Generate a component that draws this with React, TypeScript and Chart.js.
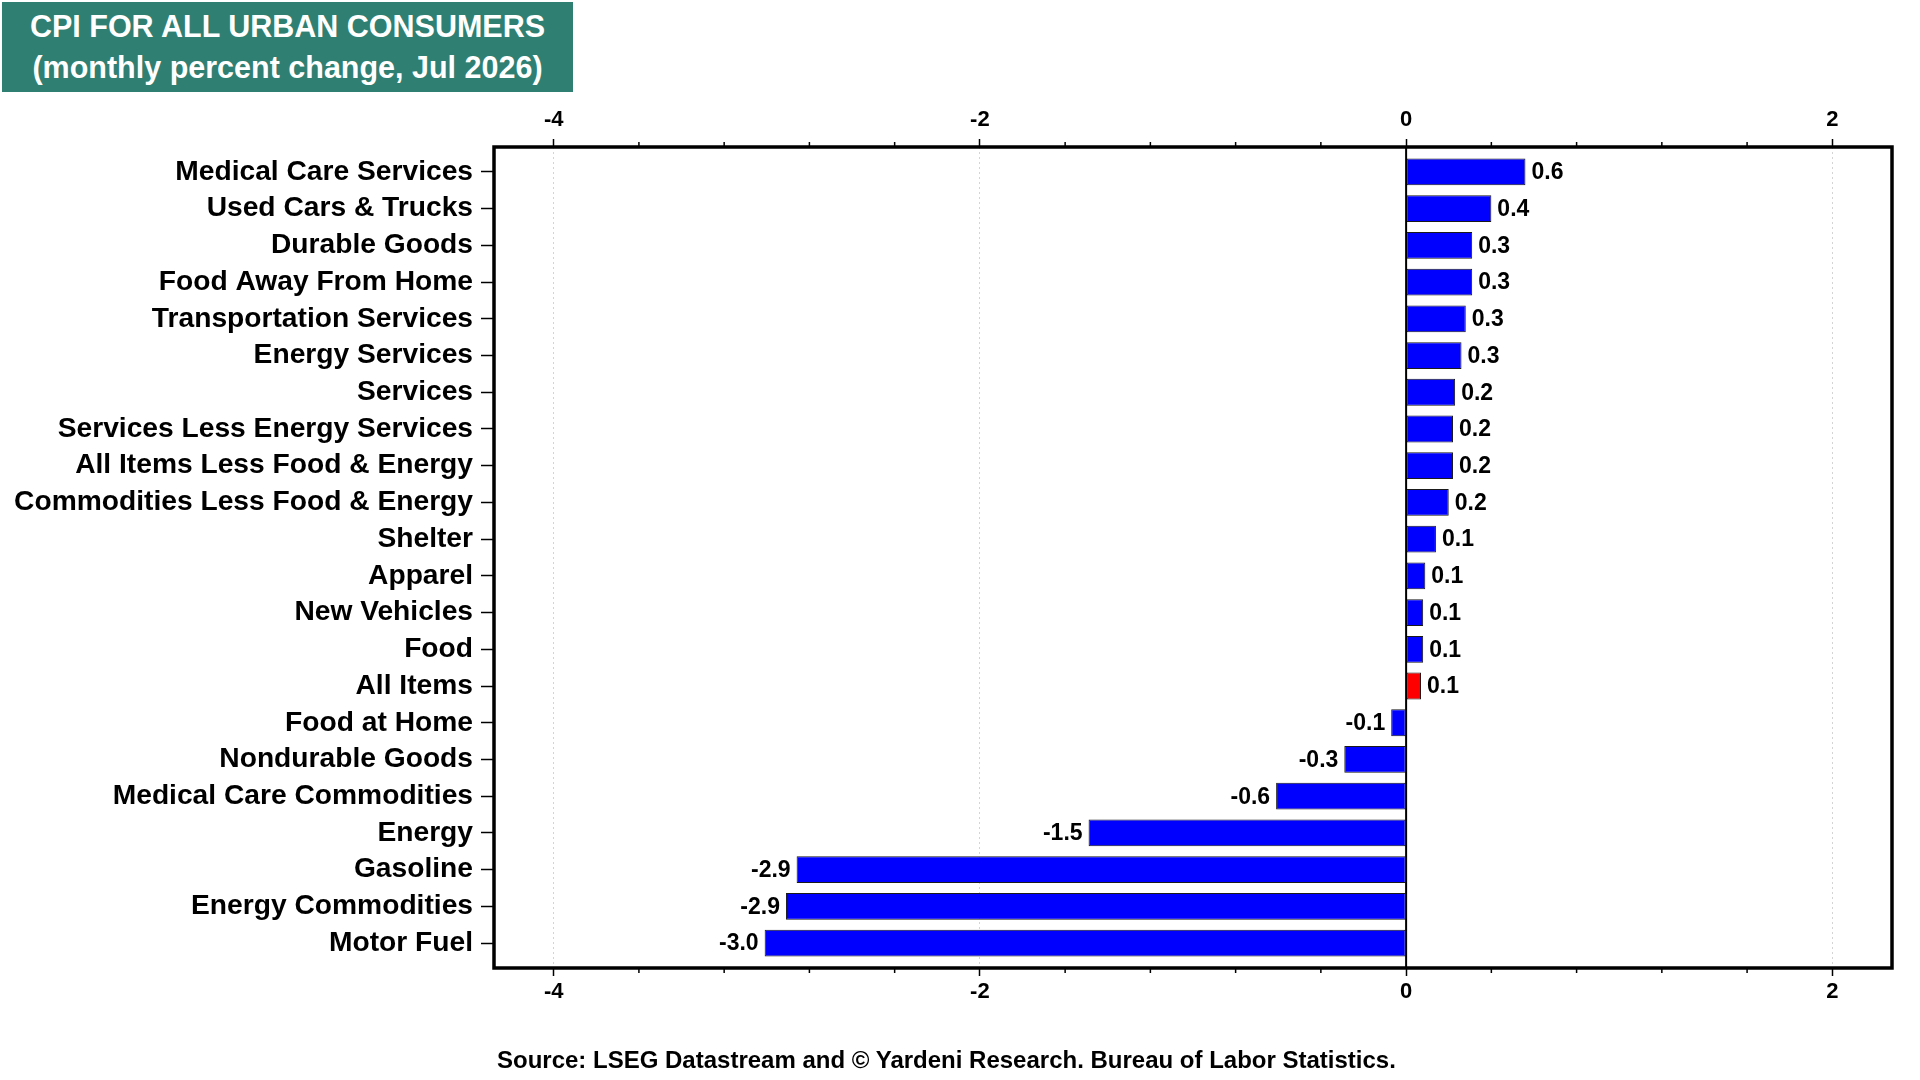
import { useEffect, useRef } from "react";
import { Chart, registerables } from "chart.js";
Chart.register(...registerables);

// ── Data ──────────────────────────────────────────────────────────────────────

const CATEGORIES = [
  "Medical Care Services",
  "Used Cars & Trucks",
  "Durable Goods",
  "Food Away From Home",
  "Transportation Services",
  "Energy Services",
  "Services",
  "Services Less Energy Services",
  "All Items Less Food & Energy",
  "Commodities Less Food & Energy",
  "Shelter",
  "Apparel",
  "New Vehicles",
  "Food",
  "All Items",
  "Food at Home",
  "Nondurable Goods",
  "Medical Care Commodities",
  "Energy",
  "Gasoline",
  "Energy Commodities",
  "Motor Fuel",
];

const VALUES = [
  0.56, 0.4, 0.31, 0.31, 0.28, 0.26, 0.23, 0.22, 0.22, 0.2, 0.14,
  0.09, 0.08, 0.08, 0.07, -0.07, -0.29, -0.61, -1.49, -2.86, -2.91, -3.01,
];

const HIGHLIGHT = "All Items";

const X_MIN = -4.28;
const X_MAX = 2.28;
const MAJOR_TICKS = [-4, -2, 0, 2];
const MINOR_TICKS = [-3.6, -3.2, -2.8, -2.4, -1.6, -1.2, -0.8, -0.4, 0.4, 0.8, 1.2, 1.6];

const TITLE_LINES = ["CPI FOR ALL URBAN CONSUMERS", "(monthly percent change, Jul 2026)"];
const SOURCE = "Source: LSEG Datastream and © Yardeni Research. Bureau of Labor Statistics.";

// ── Style ─────────────────────────────────────────────────────────────────────

const FONT = "'Liberation Sans', Arial, Helvetica, sans-serif";
const BLUE = "#0000FF";
const RED = "#FF0000";
const TEAL = "#2F7F72";

// ── Plugins ───────────────────────────────────────────────────────────────────

const framePlugin = {
  id: "frame",
  afterDatasetsDraw(chart: Chart) {
    const { ctx, chartArea: a } = chart;
    const x = chart.scales.x;
    ctx.save();
    // zero line
    const x0 = x.getPixelForValue(0);
    ctx.strokeStyle = "#000";
    ctx.lineWidth = 2;
    ctx.beginPath();
    ctx.moveTo(x0, a.top);
    ctx.lineTo(x0, a.bottom);
    ctx.stroke();
    // value labels
    const meta = chart.getDatasetMeta(0);
    ctx.font = `bold 23px ${FONT}`;
    ctx.fillStyle = "#000";
    ctx.textBaseline = "middle";
    meta.data.forEach((el: any, i: number) => {
      const v = VALUES[i];
      const txt = v.toFixed(1);
      if (v >= 0) {
        ctx.textAlign = "left";
        ctx.fillText(txt, el.x + 6, el.y + 1);
      } else {
        ctx.textAlign = "right";
        ctx.fillText(txt, el.x - 6, el.y + 1);
      }
    });
    ctx.restore();
  },
  afterDraw(chart: Chart) {
    const { ctx, chartArea: a } = chart;
    const x = chart.scales.x;
    ctx.save();
    ctx.strokeStyle = "#000";
    ctx.lineWidth = 1.5;
    MINOR_TICKS.forEach((v) => {
      const px = x.getPixelForValue(v);
      ctx.beginPath();
      ctx.moveTo(px, a.top);
      ctx.lineTo(px, a.top - 5);
      ctx.moveTo(px, a.bottom);
      ctx.lineTo(px, a.bottom + 5);
      ctx.stroke();
    });
    ctx.lineWidth = 3.5;
    ctx.strokeRect(a.left, a.top, a.right - a.left, a.bottom - a.top);
    ctx.restore();
  },
};

// ── Chart ─────────────────────────────────────────────────────────────────────

function CpiBarChart() {
  const ref = useRef<HTMLCanvasElement>(null);
  const chartRef = useRef<Chart | null>(null);

  useEffect(() => {
    if (!ref.current) return;
    chartRef.current?.destroy();

    const xAxis = (position: "top" | "bottom", onArea: boolean) => ({
      type: "linear" as const,
      position,
      min: X_MIN,
      max: X_MAX,
      afterBuildTicks: (s: any) => {
        s.ticks = MAJOR_TICKS.map((value) => ({ value }));
      },
      afterFit: (s: any) => {
        s.height = position === "top" ? 147 : 112;
      },
      ticks: {
        color: "#000",
        font: { family: FONT, size: 22, weight: "bold" as const },
        padding: position === "top" ? 6 : 3,
        callback: (v: any) => String(v),
      },
      grid: {
        drawOnChartArea: onArea,
        color: (c: any) => (c.tick && c.tick.value === 0 ? "rgba(0,0,0,0)" : "#d4d4d4"),
        lineWidth: 1,
        tickColor: "#000",
        tickLength: 8,
        tickWidth: 1.5,
      },
      border: { display: false, dash: [2, 3] },
    });

    chartRef.current = new Chart(ref.current, {
      type: "bar",
      data: {
        datasets: [
          {
            data: VALUES.map((v, i) => ({ x: v, y: i })),
            backgroundColor: CATEGORIES.map((c) => (c === HIGHLIGHT ? RED : BLUE)),
            borderColor: "#1a1a1a",
            borderWidth: 1,
            borderSkipped: false,
            barPercentage: 0.73,
            categoryPercentage: 1,
          },
        ],
      },
      options: {
        indexAxis: "y",
        animation: false,
        responsive: true,
        maintainAspectRatio: false,
        layout: { padding: { left: 0, right: 28, top: 0, bottom: 0 } },
        plugins: {
          legend: { display: false },
          tooltip: { enabled: false },
        },
        scales: {
          x: xAxis("top", true),
          x2: xAxis("bottom", false),
          y: {
            type: "linear",
            reverse: true,
            offset: false,
            min: -0.68,
            max: CATEGORIES.length - 1 + 0.68,
            afterBuildTicks: (s: any) => {
              s.ticks = CATEGORIES.map((_, i) => ({ value: i }));
            },
            afterFit: (s: any) => {
              s.width = 494;
            },
            ticks: {
              color: "#000",
              font: { family: FONT, size: 28.2, weight: "bold" },
              padding: 8,
              callback: (v: any) => CATEGORIES[v] ?? "",
            },
            grid: {
              offset: false,
              drawOnChartArea: false,
              tickColor: "#000",
              tickLength: 13,
              tickWidth: 1.5,
            },
            border: { display: false },
          },
        },
      },
      plugins: [framePlugin],
    });

    return () => chartRef.current?.destroy();
  }, []);

  return <canvas ref={ref} />;
}

export default function App() {
  return (
    <div
      style={{
        position: "absolute",
        left: 0,
        top: 0,
        width: 1920,
        height: 1080,
        background: "#fff",
        overflow: "hidden",
      }}
    >
      <div style={{ position: "absolute", left: 0, top: 0, width: 1920, height: 1080 }}>
        <CpiBarChart />
      </div>
      <div
        style={{
          position: "absolute",
          left: 2,
          top: 2,
          width: 571,
          height: 90,
          background: TEAL,
          color: "#fff",
          fontFamily: FONT,
          fontWeight: "bold",
          fontSize: 30.5,
          lineHeight: "41px",
          textAlign: "center",
          display: "flex",
          flexDirection: "column",
          justifyContent: "center",
        }}
      >
        {TITLE_LINES.map((t) => (
          <div key={t}>{t}</div>
        ))}
      </div>
      <div
        style={{
          position: "absolute",
          left: 497,
          top: 1046,
          fontFamily: FONT,
          fontWeight: "bold",
          fontSize: 24,
          lineHeight: "28px",
          color: "#000",
          whiteSpace: "nowrap",
        }}
      >
        {SOURCE}
      </div>
    </div>
  );
}
